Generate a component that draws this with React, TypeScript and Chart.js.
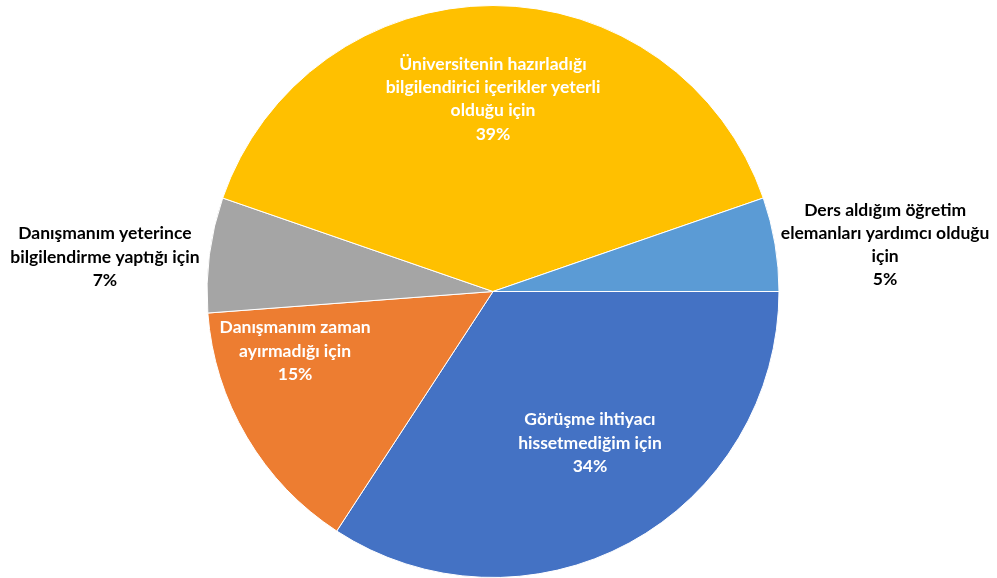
import React, { useEffect, useRef } from "react";
import { Chart, registerables } from "chart.js";

Chart.register(...registerables);

const categories = [
  ["Görüşme ihtiyacı", "hissetmediğim için"],
  ["Danışmanım zaman", "ayırmadığı için"],
  ["Danışmanım yeterince", "bilgilendirme yaptığı için"],
  ["Üniversitenin hazırladığı", "bilgilendirici içerikler yeterli", "olduğu için"],
  ["Ders aldığım öğretim", "elemanları yardımcı olduğu", "için"],
];
const values = [34.2, 14.6, 6.5, 39.4, 5.3];
const percentLabels = ["34%", "15%", "7%", "39%", "5%"];
const colors = ["#4472C4", "#ED7D31", "#A5A5A5", "#FFC000", "#5B9BD5"];
const labelColors = ["#FFFFFF", "#FFFFFF", "#000000", "#FFFFFF", "#000000"];
// label centre offsets, in units of the pie radius
const labelOffsets = [
  [0.339, 0.53],
  [-0.692, 0.208],
  [-1.357, -0.121],
  [0, -0.673],
  [1.371, -0.163],
];

const labelPlugin = {
  id: "pieLabels",
  afterDatasetsDraw(chart: any) {
    const ctx = chart.ctx;
    const meta = chart.getDatasetMeta(0);
    ctx.save();
    ctx.font = "bold 17.5px Lato, 'Open Sans', sans-serif";
    ctx.textAlign = "center";
    ctx.textBaseline = "middle";
    const lh = 23.3;
    meta.data.forEach((arc: any, i: number) => {
      const { x, y, outerRadius } = arc.getProps(["x", "y", "outerRadius"], true);
      const cx = x + labelOffsets[i][0] * outerRadius;
      const cy = y + labelOffsets[i][1] * outerRadius;
      const lines = [...categories[i], percentLabels[i]];
      const start = cy - ((lines.length - 1) * lh) / 2;
      ctx.fillStyle = labelColors[i];
      lines.forEach((t, k) => ctx.fillText(t, cx, start + k * lh));
    });
    ctx.restore();
  },
};

export default function App() {
  const ref = useRef<HTMLCanvasElement>(null);
  useEffect(() => {
    document.body.style.margin = "0";
    const chart = new Chart(ref.current!, {
      type: "pie",
      data: {
        labels: categories.map((c) => c.join(" ")),
        datasets: [
          {
            data: values,
            backgroundColor: colors,
            borderColor: "#FFFFFF",
            borderWidth: 1,
          },
        ],
      },
      options: {
        animation: false,
        responsive: false,
        rotation: 90,
        layout: { padding: { top: 5, bottom: 0, left: 0, right: 11 } },
        plugins: { legend: { display: false }, tooltip: { enabled: false } },
      },
      plugins: [labelPlugin],
    });
    return () => chart.destroy();
  }, []);
  return (
    <div style={{ width: 997, height: 578, background: "#fff" }}>
      <canvas ref={ref} width={997} height={578} />
    </div>
  );
}
